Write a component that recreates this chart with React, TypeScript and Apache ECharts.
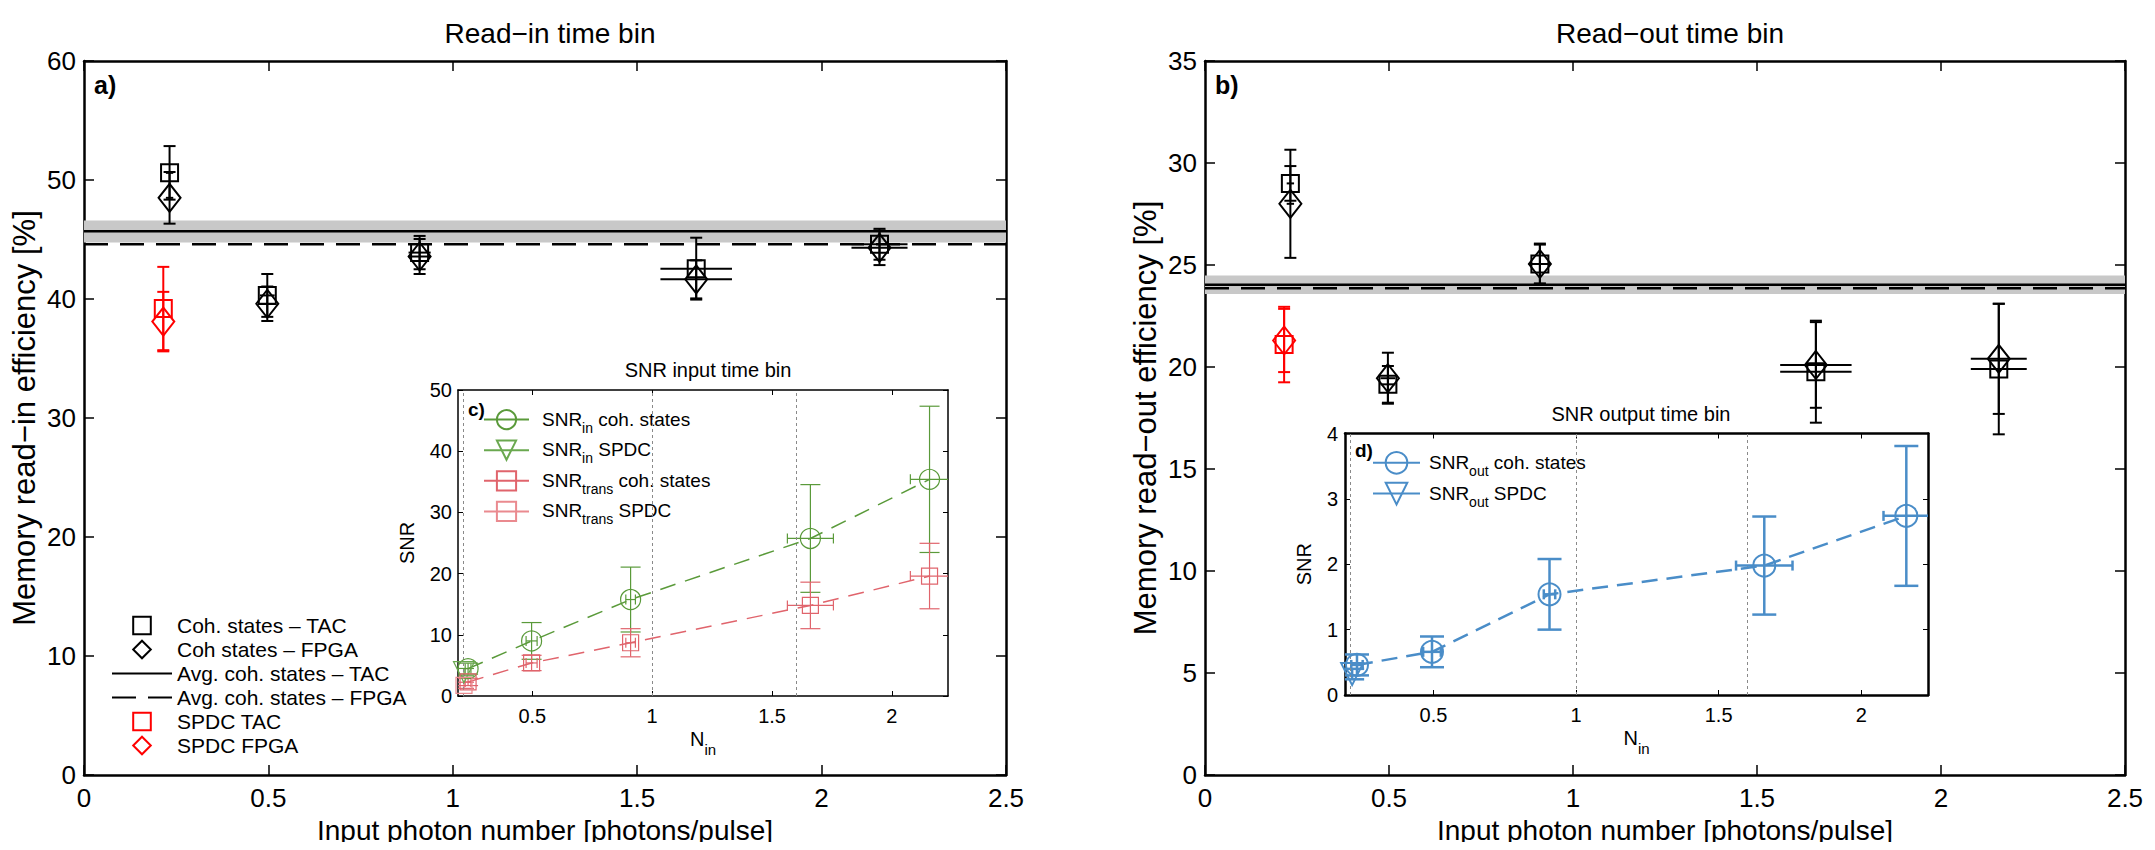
import React, { useEffect, useRef } from "react";
import * as echarts from "echarts";

const FONT = '"Liberation Sans", Arial, Helvetica, sans-serif';

// ---------- data ----------
// input photon numbers (coherent states) and their uncertainty
const N_COH = [0.232, 0.497, 0.91, 1.66, 2.157];
const N_COH_ERR = [0.01, 0.02, 0.03, 0.097, 0.076];
const N_SPDC = 0.215;

// panel a) read-in efficiency [%]
const IN_TAC = [50.6, 40.3, 43.9, 42.55, 44.6];
const IN_TAC_ERR = [2.25, 1.8, 1.4, 2.6, 1.3];
const IN_FPGA = [48.5, 39.6, 43.57, 41.65, 44.3];
const IN_FPGA_ERR = [2.17, 1.45, 1.47, 1.6, 1.45];
const IN_SPDC_TAC = 39.2;
const IN_SPDC_TAC_ERR = 3.5;
const IN_SPDC_FPGA = 38.1;
const IN_SPDC_FPGA_ERR = 2.5;
const IN_AVG_TAC = 45.7;
const IN_AVG_FPGA = 44.6;
const IN_AVG_BAND = [44.75, 46.6];

// panel b) read-out efficiency [%]
const OUT_TAC = [29.0, 19.15, 25.05, 19.77, 19.9];
const OUT_TAC_ERR = [0.85, 0.9, 1.0, 2.5, 3.2];
const OUT_FPGA = [28.0, 19.45, 25.05, 20.1, 20.4];
const OUT_FPGA_ERR = [2.65, 1.25, 0.95, 2.1, 2.7];
const OUT_SPDC_TAC = 21.1;
const OUT_SPDC_TAC_ERR = 1.85;
const OUT_SPDC_FPGA = 21.3;
const OUT_SPDC_FPGA_ERR = 1.55;
const OUT_AVG_TAC = 24.03;
const OUT_AVG_FPGA = 23.86;
const OUT_AVG_BAND = [23.58, 24.49];

// inset c) SNR input time bin
const SNR_IN = [4.47, 9.0, 15.76, 25.74, 35.4];
const SNR_IN_ERR = [0.9, 3.0, 5.3, 8.8, 11.95];
const SNR_TRANS = [2.3, 5.4, 8.7, 14.8, 19.6];
const SNR_TRANS_ERR = [0.6, 1.25, 2.3, 3.8, 5.35];
const SNR_C_XERR = [0.012, 0.023, 0.02, 0.096, 0.08];
const SNR_IN_SPDC = 3.9;
const SNR_IN_SPDC_ERR = 0.6;
const SNR_TRANS_SPDC = 1.75;
const SNR_TRANS_SPDC_ERR = 0.5;

// inset d) SNR output time bin
const N_COH_D = [0.232, 0.495, 0.907, 1.66, 2.158];
const SNR_OUT = [0.46, 0.66, 1.54, 1.98, 2.74];
const SNR_OUT_ERR = [0.16, 0.235, 0.54, 0.75, 1.07];
const SNR_D_XERR = [0.02, 0.031, 0.02, 0.099, 0.08];
const SNR_OUT_SPDC = 0.32;
const SNR_OUT_SPDC_ERR = 0.08;

// inset reference lines and ticks
const INSET_VLINES = [0.215, 1, 1.6];
const INSET_XTICKS = [0.5, 1, 1.5, 2];

// ---------- helpers ----------
const GREEN = "#5a9a3a";
const GREEN_L = "#6aa84f";
const PINK = "#e0646c";
const PINK_L = "#ea8a8f";
const BLUE = "#4a8dc8";
const RED = "#ff0000";

const pts = (xs: number[], ys: number[]) => xs.map((x, i) => [x, ys[i]]);
const errPts = (xs: number[], ys: number[], ye: number[], xe: number[]) =>
  xs.map((x, i) => [x, ys[i], ye[i], xe[i]]);

const errRender = (color: string, lw: number, cap: number, hcap: number) => (params: any, api: any) => {
  const x = api.value(0);
  const y = api.value(1);
  const ye = api.value(2);
  const xe = api.value(3);
  const style = { stroke: color, lineWidth: lw, fill: "none" };
  const ch: any[] = [];
  const L = (x1: number, y1: number, x2: number, y2: number) =>
    ch.push({ type: "line", shape: { x1, y1, x2, y2 }, style });
  if (ye > 0) {
    const t = api.coord([x, y + ye]);
    const b = api.coord([x, y - ye]);
    L(t[0], t[1], b[0], b[1]);
    L(t[0] - cap, t[1], t[0] + cap, t[1]);
    L(b[0] - cap, b[1], b[0] + cap, b[1]);
  }
  if (xe > 0) {
    const l = api.coord([x - xe, y]);
    const r = api.coord([x + xe, y]);
    L(l[0], l[1], r[0], r[1]);
    if (hcap > 0) {
      L(l[0], l[1] - hcap, l[0], l[1] + hcap);
      L(r[0], r[1] - hcap, r[0], r[1] + hcap);
    }
  }
  return { type: "group", children: ch };
};

const mainX = (gi: number, top: boolean) => ({
  type: "value",
  gridIndex: gi,
  position: top ? "top" : "bottom",
  min: 0,
  max: 2.5,
  interval: 0.5,
  axisLine: { show: true, onZero: false, lineStyle: { color: "#000", width: 2.5 } },
  axisTick: { show: true, inside: true, length: 10, lineStyle: { color: "#000", width: 1.5 } },
  axisLabel: { show: !top, fontSize: 26, color: "#000", margin: 10, fontFamily: FONT },
  splitLine: { show: false },
  ...(top
    ? {}
    : {
        name: "Input photon number [photons/pulse]",
        nameLocation: "middle",
        nameGap: 41,
        nameTextStyle: { fontSize: 28, color: "#000", fontFamily: FONT },
      }),
});

const mainY = (gi: number, right: boolean, max: number, interval: number, name: string) => ({
  type: "value",
  gridIndex: gi,
  position: right ? "right" : "left",
  min: 0,
  max,
  interval,
  axisLine: { show: true, onZero: false, lineStyle: { color: "#000", width: 2.5 } },
  axisTick: { show: true, inside: true, length: 10, lineStyle: { color: "#000", width: 1.5 } },
  axisLabel: { show: !right, fontSize: 26, color: "#000", margin: 8, fontFamily: FONT },
  splitLine: { show: false },
  ...(right
    ? {}
    : {
        name,
        nameLocation: "middle",
        nameRotate: 90,
        nameGap: 44,
        nameTextStyle: { fontSize: 31, color: "#000", fontFamily: FONT },
      }),
});

const subRich = (base: number, sub: number, pad: number) => ({
  b: { fontSize: base, lineHeight: base + 1, verticalAlign: "top", fontFamily: FONT, color: "#000" },
  s: { fontSize: sub, lineHeight: sub, padding: [pad, 0, 0, 0], verticalAlign: "top", fontFamily: FONT, color: "#000" },
});

const insetX = (gi: number, top: boolean, lw: number) => ({
  type: "value",
  gridIndex: gi,
  position: top ? "top" : "bottom",
  min: 0.19,
  max: 2.234,
  axisLine: { show: true, onZero: false, lineStyle: { color: "#000", width: lw } },
  axisTick: { show: true, inside: true, length: 5, customValues: INSET_XTICKS, lineStyle: { color: "#000", width: 1 } },
  axisLabel: { show: !top, fontSize: 20, color: "#000", margin: 10, fontFamily: FONT, customValues: INSET_XTICKS },
  splitLine: { show: false },
  ...(top
    ? {}
    : {
        name: "{b|N}{s|in}",
        nameLocation: "middle",
        nameGap: 33,
        nameTextStyle: { fontSize: 20, color: "#000", fontFamily: FONT, rich: subRich(20, 15, 13) },
      }),
});

const insetY = (gi: number, right: boolean, max: number, interval: number, lw: number, gap: number, margin: number) => ({
  type: "value",
  gridIndex: gi,
  position: right ? "right" : "left",
  min: 0,
  max,
  interval,
  axisLine: { show: true, onZero: false, lineStyle: { color: "#000", width: lw } },
  axisTick: { show: true, inside: true, length: 5, lineStyle: { color: "#000", width: 1 } },
  axisLabel: { show: !right, fontSize: 20, color: "#000", margin, fontFamily: FONT },
  splitLine: { show: false },
  ...(right
    ? {}
    : {
        name: "SNR",
        nameLocation: "middle",
        nameRotate: 90,
        nameGap: gap,
        nameTextStyle: { fontSize: 20, color: "#000", fontFamily: FONT },
      }),
});

const hollow = (color: string, w: number) => ({ color: "rgba(0,0,0,0)", borderColor: color, borderWidth: w });
const invisible = { color: "rgba(0,0,0,0)", borderColor: "rgba(0,0,0,0)", borderWidth: 0 };
const noLine = { width: 0, opacity: 0 };

// names (legend)
const A_NAMES = [
  "Coh. states \u2013 TAC",
  "Coh states \u2013 FPGA",
  "Avg. coh. states \u2013 TAC",
  "Avg. coh. states \u2013 FPGA",
  "SPDC TAC",
  "SPDC FPGA",
];
const C_NAMES = ["SNR_in coh. states", "SNR_in SPDC", "SNR_trans coh. states", "SNR_trans SPDC"];
const D_NAMES = ["SNR_out coh. states", "SNR_out SPDC"];

const legendRich = (name: string) => {
  const m = name.match(/^SNR_(\w+) (.*)$/);
  if (!m) return name;
  return `{f|SNR}{s|${m[1]}}{b| ${m[2]}}`;
};

function buildPanel(
  xi: number,
  yi: number,
  suffix: string,
  tac: number[],
  tacErr: number[],
  fpga: number[],
  fpgaErr: number[],
  spdcTac: number,
  spdcTacErr: number,
  spdcFpga: number,
  spdcFpgaErr: number,
  avgTac: number,
  avgFpga: number,
  band: number[]
) {
  return [
    {
      type: "line",
      name: A_NAMES[2] + suffix,
      xAxisIndex: xi,
      yAxisIndex: yi,
      data: [
        [0, avgTac],
        [2.5, avgTac],
      ],
      symbol: "rect",
      showSymbol: false,
      lineStyle: { color: "#000", width: 2.5, type: "solid" },
      itemStyle: invisible,
      z: 3,
      silent: true,
      markArea: {
        silent: true,
        itemStyle: { color: "#c8c8c8" },
        data: [[{ yAxis: band[0] }, { yAxis: band[1] }]],
      },
    },
    {
      type: "line",
      name: A_NAMES[3] + suffix,
      xAxisIndex: xi,
      yAxisIndex: yi,
      data: [
        [0, avgFpga],
        [2.5, avgFpga],
      ],
      symbol: "rect",
      showSymbol: false,
      lineStyle: { color: "#000", width: 2.5, type: [24, 12] },
      itemStyle: invisible,
      z: 3,
      silent: true,
    },
    {
      type: "custom",
      name: "err-coh" + suffix,
      xAxisIndex: xi,
      yAxisIndex: yi,
      renderItem: errRender("#000", 2, 6, 0),
      encode: { x: 0, y: 1 },
      data: [...errPts(N_COH, tac, tacErr, N_COH_ERR), ...errPts(N_COH, fpga, fpgaErr, N_COH_ERR)],
      z: 4,
      silent: true,
    },
    {
      type: "custom",
      name: "err-spdc" + suffix,
      xAxisIndex: xi,
      yAxisIndex: yi,
      renderItem: errRender(RED, 2, 6, 0),
      encode: { x: 0, y: 1 },
      data: [
        [N_SPDC, spdcTac, spdcTacErr, 0],
        [N_SPDC, spdcFpga, spdcFpgaErr, 0],
      ],
      z: 4,
      silent: true,
    },
    {
      type: "line",
      name: A_NAMES[0] + suffix,
      xAxisIndex: xi,
      yAxisIndex: yi,
      data: pts(N_COH, tac),
      symbol: "rect",
      symbolSize: 17,
      lineStyle: noLine,
      itemStyle: hollow("#000", 2),
      z: 5,
      silent: true,
    },
    {
      type: "line",
      name: A_NAMES[1] + suffix,
      xAxisIndex: xi,
      yAxisIndex: yi,
      data: pts(N_COH, fpga),
      symbol: "diamond",
      symbolSize: [22, 28],
      lineStyle: noLine,
      itemStyle: hollow("#000", 2),
      z: 5,
      silent: true,
    },
    {
      type: "line",
      name: A_NAMES[4] + suffix,
      xAxisIndex: xi,
      yAxisIndex: yi,
      data: [[N_SPDC, spdcTac]],
      symbol: "rect",
      symbolSize: 17,
      lineStyle: noLine,
      itemStyle: hollow(RED, 2),
      z: 5,
      silent: true,
    },
    {
      type: "line",
      name: A_NAMES[5] + suffix,
      xAxisIndex: xi,
      yAxisIndex: yi,
      data: [[N_SPDC, spdcFpga]],
      symbol: "diamond",
      symbolSize: [22, 28],
      lineStyle: noLine,
      itemStyle: hollow(RED, 2),
      z: 5,
      silent: true,
    },
  ];
}

const insetLegendText = (padLeft: number) => ({
  fontSize: 19,
  color: "#000",
  fontFamily: FONT,
  rich: {
    f: { fontSize: 19, lineHeight: 20, verticalAlign: "top", padding: [0, 0, 0, padLeft], fontFamily: FONT, color: "#000" },
    b: { fontSize: 19, lineHeight: 20, verticalAlign: "top", fontFamily: FONT, color: "#000" },
    s: { fontSize: 14, lineHeight: 14, padding: [11, 0, 0, 0], verticalAlign: "top", fontFamily: FONT, color: "#000" },
  },
});

export default function App() {
  const ref = useRef<HTMLDivElement>(null);

  useEffect(() => {
    if (!ref.current) return;
    const chart = echarts.init(ref.current, null, { renderer: "svg" });

    const vlines = {
      silent: true,
      symbol: ["none", "none"],
      label: { show: false },
      lineStyle: { type: [3, 3], color: "#8a8a8a", width: 1 },
      data: INSET_VLINES.map((v) => ({ xAxis: v })),
    };

    const titleStyle = (size: number) => ({ fontSize: size, fontWeight: "normal", color: "#000", fontFamily: FONT });

    const option: any = {
      animation: false,
      backgroundColor: "#fff",
      textStyle: { fontFamily: FONT },
      title: [
        { text: "Read\u2212in time bin", left: 545, top: 14, textAlign: "center", textStyle: titleStyle(28) },
        { text: "Read\u2212out time bin", left: 1665, top: 14, textAlign: "center", textStyle: titleStyle(28) },
        { text: "SNR input time bin", left: 703, top: 355, textAlign: "center", textStyle: titleStyle(20) },
        { text: "SNR output time bin", left: 1636, top: 399, textAlign: "center", textStyle: titleStyle(20) },
      ],
      grid: [
        { left: 84, top: 61, width: 922, height: 714 },
        { left: 458, top: 390, width: 490, height: 306, show: true, backgroundColor: "#fff", borderWidth: 0 },
        { left: 1205, top: 61, width: 920, height: 714 },
        { left: 1345, top: 433.5, width: 583, height: 261.5, show: true, backgroundColor: "#fff", borderWidth: 0 },
      ],
      xAxis: [
        mainX(0, false),
        mainX(0, true),
        insetX(1, false, 1.5),
        insetX(1, true, 1.5),
        mainX(2, false),
        mainX(2, true),
        insetX(3, false, 2.5),
        insetX(3, true, 2.5),
      ],
      yAxis: [
        mainY(0, false, 60, 10, "Memory read\u2212in efficiency [%]"),
        mainY(0, true, 60, 10, ""),
        insetY(1, false, 50, 10, 1.5, 41, 6),
        insetY(1, true, 50, 10, 1.5, 41, 6),
        mainY(2, false, 35, 5, "Memory read\u2212out efficiency [%]"),
        mainY(2, true, 35, 5, ""),
        insetY(3, false, 4, 1, 2.5, 31, 7),
        insetY(3, true, 4, 1, 2.5, 31, 7),
      ],
      legend: [
        {
          data: A_NAMES,
          orient: "vertical",
          left: 106,
          top: 610,
          itemWidth: 60,
          itemHeight: 22,
          itemGap: 3,
          selectedMode: false,
          textStyle: { fontSize: 21, color: "#000", fontFamily: FONT },
        },
        {
          data: C_NAMES,
          orient: "vertical",
          left: 478,
          top: 404,
          itemWidth: 45,
          itemHeight: 24,
          itemGap: 5,
          selectedMode: false,
          formatter: legendRich,
          lineStyle: { type: "solid" },
          textStyle: insetLegendText(8),
        },
        {
          data: D_NAMES,
          orient: "vertical",
          left: 1367,
          top: 446,
          itemWidth: 47,
          itemHeight: 27,
          itemGap: 4,
          selectedMode: false,
          formatter: legendRich,
          lineStyle: { type: "solid" },
          textStyle: insetLegendText(4),
        },
      ],
      graphic: [
        { type: "text", left: 94, top: 72, z: 100, style: { text: "a)", font: `bold 25px ${FONT}`, fill: "#000" } },
        { type: "text", left: 1215, top: 72, z: 100, style: { text: "b)", font: `bold 25px ${FONT}`, fill: "#000" } },
        { type: "text", left: 468, top: 400, z: 100, style: { text: "c)", font: `bold 19px ${FONT}`, fill: "#000" } },
        { type: "text", left: 1355, top: 441, z: 100, style: { text: "d)", font: `bold 19px ${FONT}`, fill: "#000" } },
      ],
      series: [
        ...buildPanel(0, 0, "", IN_TAC, IN_TAC_ERR, IN_FPGA, IN_FPGA_ERR, IN_SPDC_TAC, IN_SPDC_TAC_ERR, IN_SPDC_FPGA, IN_SPDC_FPGA_ERR, IN_AVG_TAC, IN_AVG_FPGA, IN_AVG_BAND),
        ...buildPanel(4, 4, " (read-out)", OUT_TAC, OUT_TAC_ERR, OUT_FPGA, OUT_FPGA_ERR, OUT_SPDC_TAC, OUT_SPDC_TAC_ERR, OUT_SPDC_FPGA, OUT_SPDC_FPGA_ERR, OUT_AVG_TAC, OUT_AVG_FPGA, OUT_AVG_BAND),

        // ----- inset c -----
        {
          type: "custom",
          name: "err-in",
          xAxisIndex: 2,
          yAxisIndex: 2,
          renderItem: errRender(GREEN, 1.2, 10, 5),
          encode: { x: 0, y: 1 },
          data: [...errPts(N_COH, SNR_IN, SNR_IN_ERR, SNR_C_XERR), [N_SPDC, SNR_IN_SPDC, SNR_IN_SPDC_ERR, 0]],
          clip: true,
          z: 4,
          silent: true,
        },
        {
          type: "custom",
          name: "err-trans",
          xAxisIndex: 2,
          yAxisIndex: 2,
          renderItem: errRender(PINK, 1.2, 10, 5),
          encode: { x: 0, y: 1 },
          data: [...errPts(N_COH, SNR_TRANS, SNR_TRANS_ERR, SNR_C_XERR), [N_SPDC, SNR_TRANS_SPDC, SNR_TRANS_SPDC_ERR, 0]],
          clip: true,
          z: 4,
          silent: true,
        },
        {
          type: "line",
          name: C_NAMES[0],
          xAxisIndex: 2,
          yAxisIndex: 2,
          data: pts(N_COH, SNR_IN),
          symbol: "circle",
          symbolSize: 20,
          lineStyle: { color: GREEN, width: 1.5, type: [16, 10] },
          itemStyle: hollow(GREEN, 1.2),
          markLine: vlines,
          z: 5,
          silent: true,
        },
        {
          type: "line",
          name: C_NAMES[1],
          xAxisIndex: 2,
          yAxisIndex: 2,
          data: [[N_SPDC, SNR_IN_SPDC]],
          symbol: "triangle",
          symbolRotate: 180,
          symbolSize: 21,
          lineStyle: { color: GREEN_L, width: 1.5 },
          itemStyle: hollow(GREEN_L, 1.2),
          z: 5,
          silent: true,
        },
        {
          type: "line",
          name: C_NAMES[2],
          xAxisIndex: 2,
          yAxisIndex: 2,
          data: pts(N_COH, SNR_TRANS),
          symbol: "rect",
          symbolSize: 16,
          lineStyle: { color: PINK, width: 1.5, type: [16, 10] },
          itemStyle: hollow(PINK, 1.2),
          z: 5,
          silent: true,
        },
        {
          type: "line",
          name: C_NAMES[3],
          xAxisIndex: 2,
          yAxisIndex: 2,
          data: [[N_SPDC, SNR_TRANS_SPDC]],
          symbol: "rect",
          symbolSize: 16,
          lineStyle: { color: PINK_L, width: 1.5 },
          itemStyle: hollow(PINK_L, 1.2),
          z: 5,
          silent: true,
        },

        // ----- inset d -----
        {
          type: "custom",
          name: "err-out",
          xAxisIndex: 6,
          yAxisIndex: 6,
          renderItem: errRender(BLUE, 2.5, 12, 5),
          encode: { x: 0, y: 1 },
          data: [...errPts(N_COH_D, SNR_OUT, SNR_OUT_ERR, SNR_D_XERR), [N_SPDC, SNR_OUT_SPDC, SNR_OUT_SPDC_ERR, 0]],
          clip: true,
          z: 4,
          silent: true,
        },
        {
          type: "line",
          name: D_NAMES[0],
          xAxisIndex: 6,
          yAxisIndex: 6,
          data: pts(N_COH_D, SNR_OUT),
          symbol: "circle",
          symbolSize: 22,
          lineStyle: { color: BLUE, width: 2.5, type: [16, 9] },
          itemStyle: hollow(BLUE, 2),
          markLine: vlines,
          z: 5,
          silent: true,
        },
        {
          type: "line",
          name: D_NAMES[1],
          xAxisIndex: 6,
          yAxisIndex: 6,
          data: [[N_SPDC, SNR_OUT_SPDC]],
          symbol: "triangle",
          symbolRotate: 180,
          symbolSize: 22,
          lineStyle: { color: BLUE, width: 2.5 },
          itemStyle: hollow(BLUE, 2),
          z: 5,
          silent: true,
        },
      ],
    };

    chart.setOption(option);
    return () => chart.dispose();
  }, []);

  return <div ref={ref} style={{ width: 2155, height: 850, margin: -8 }} />;
}
